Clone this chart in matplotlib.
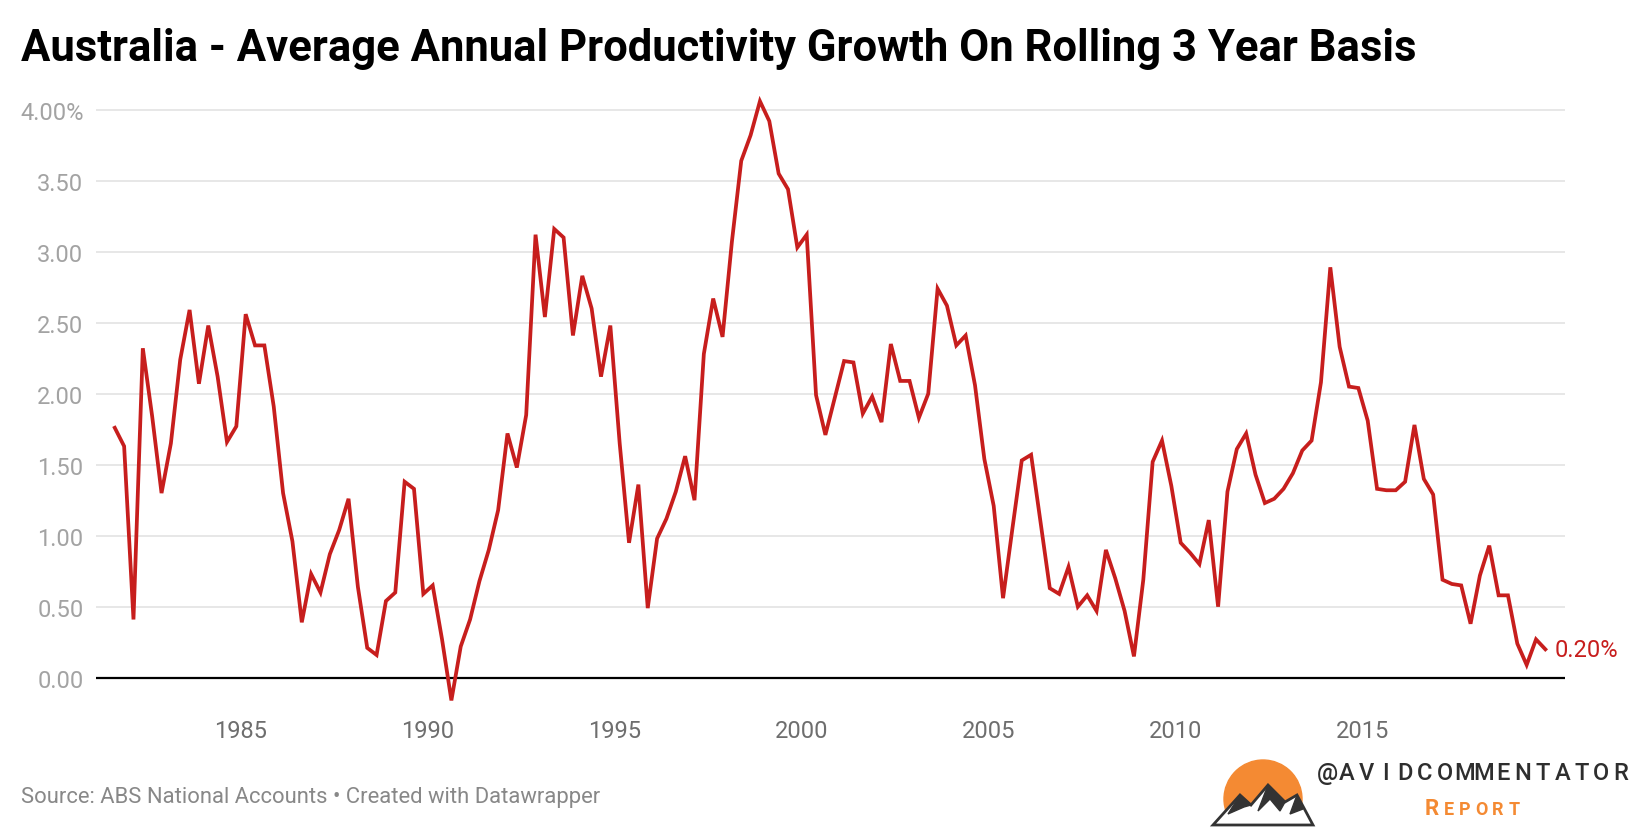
import numpy as np
import matplotlib
matplotlib.use("Agg")
import matplotlib.pyplot as plt
from matplotlib.patches import Circle, Polygon, Rectangle

plt.rcParams['font.family'] = ['Roboto', 'DejaVu Sans']

# rolling 3 year average annual productivity growth, quarterly from late 1981
growth = [
    1.76, 1.63, 0.41, 2.32, 1.84, 1.30, 1.65, 2.24, 2.59, 2.07,
    2.48, 2.12, 1.66, 1.77, 2.56, 2.34, 2.34, 1.91, 1.30, 0.96,
    0.39, 0.73, 0.60, 0.87, 1.04, 1.26, 0.64, 0.21, 0.16, 0.54,
    0.60, 1.38, 1.33, 0.59, 0.65, 0.27, -0.16, 0.22, 0.41, 0.68,
    0.90, 1.18, 1.72, 1.48, 1.85, 3.12, 2.54, 3.16, 3.10, 2.41,
    2.83, 2.60, 2.12, 2.48, 1.65, 0.95, 1.36, 0.49, 0.98, 1.12,
    1.31, 1.56, 1.25, 2.28, 2.67, 2.40, 3.07, 3.64, 3.82, 4.06,
    3.92, 3.55, 3.44, 3.03, 3.12, 1.99, 1.71, 1.97, 2.23, 2.22,
    1.86, 1.98, 1.80, 2.35, 2.09, 2.09, 1.83, 2.00, 2.74, 2.62,
    2.34, 2.41, 2.06, 1.54, 1.21, 0.56, 1.05, 1.53, 1.57, 1.10,
    0.63, 0.59, 0.78, 0.50, 0.58, 0.47, 0.90, 0.70, 0.47, 0.15,
    0.69, 1.52, 1.67, 1.35, 0.95, 0.88, 0.80, 1.11, 0.50, 1.31,
    1.61, 1.72, 1.43, 1.23, 1.26, 1.33, 1.44, 1.60, 1.67, 2.08,
    2.89, 2.33, 2.05, 2.04, 1.81, 1.33, 1.32, 1.32, 1.38, 1.78,
    1.40, 1.29, 0.69, 0.66, 0.65, 0.38, 0.72, 0.93, 0.58, 0.58,
    0.24, 0.09, 0.27, 0.20,
]
dates = 1981.625 + 0.25 * np.arange(len(growth))

year_ticks = [1985, 1990, 1995, 2000, 2005, 2010, 2015]
y_ticks = [0, 0.5, 1.0, 1.5, 2.0, 2.5, 3.0, 3.5, 4.0]
y_labels = ["0.00", "0.50", "1.00", "1.50", "2.00", "2.50", "3.00", "3.50", "4.00%"]

red = "#c71e1d"
W, H = 1640, 828

fig = plt.figure(figsize=(W / 100, H / 100), dpi=100)
ax = fig.add_axes([96 / W, 1 - 714.2 / H, (1565 - 96) / W, (714.2 - 96.5) / H])

ax.plot(dates, growth, color=red, lw=2.7, solid_joinstyle='miter', zorder=3)
ax.axhline(0, color="black", lw=1.6, zorder=2)

ax.set_xlim(1981.123, 2020.40)
ax.set_ylim(-0.25, 4.1)
ax.set_yticks(y_ticks)
ax.set_yticklabels(y_labels)
ax.set_xticks(year_ticks)
ax.yaxis.grid(True, color="#e3e3e3", lw=1.2)
ax.set_axisbelow(True)
for s in ax.spines.values():
    s.set_visible(False)
ax.tick_params(axis='y', length=0, pad=9, labelsize=17, labelcolor="#a3a3a3")
ax.tick_params(axis='x', length=0, pad=4, labelsize=17, labelcolor="#6e6e6e")

ax.annotate("0.20%", (dates[-1], growth[-1]), xytext=(7, 0),
            textcoords="offset points", ha="left", va="center",
            color=red, fontsize=17)

fig.text(21 / W, 1 - 61 / H, "Australia - Average Annual Productivity Growth On Rolling 3 Year Basis",
         fontsize=31.4, fontweight="bold", color="black", va="baseline")
fig.text(21 / W, 1 - 803 / H, "Source: ABS National Accounts \u2022 Created with Datawrapper",
         fontsize=15.8, color="#888888", va="baseline")

# logo
lg = fig.add_axes([1205 / W, 0, 115 / W, 73 / H])
lg.set_xlim(1205, 1320)
lg.set_ylim(828, 755)
lg.axis("off")
lg.add_patch(Circle((1263, 800), 39, color="#f48a33"))
lg.add_patch(Rectangle((1205, 820), 115, 10, color="white"))
lg.add_patch(Polygon([(1213, 826), (1240, 796), (1251, 806), (1268, 786),
                      (1285, 803), (1297, 796), (1313, 826)],
                     closed=True, facecolor="white", edgecolor="#333333", lw=2))
lg.add_patch(Polygon([(1240, 796), (1228, 815), (1244, 808), (1251, 806)],
                     closed=True, color="#333333"))
lg.add_patch(Polygon([(1268, 786), (1258, 812), (1270, 800), (1280, 812), (1285, 803)],
                     closed=True, color="#333333"))
lg.add_patch(Polygon([(1297, 796), (1290, 815), (1303, 810)],
                     closed=True, color="#333333"))

handle = "@AVIDCOMMENTATOR"
for i, ch in enumerate(handle):
    fig.text((1327 + 19.6 * i) / W, 1 - 774 / H, ch, fontsize=17, color="#2e2e2e",
             fontweight="medium", ha="center", va="center")
report = "REPORT"
for i, ch in enumerate(report):
    fig.text((1432 + 16.5 * i) / W, 1 - 815 / H, ch, fontsize=16 if i == 0 else 13,
             color="#f48a33", fontweight="bold", ha="center", va="baseline")

fig.savefig("out.png", dpi=100)
